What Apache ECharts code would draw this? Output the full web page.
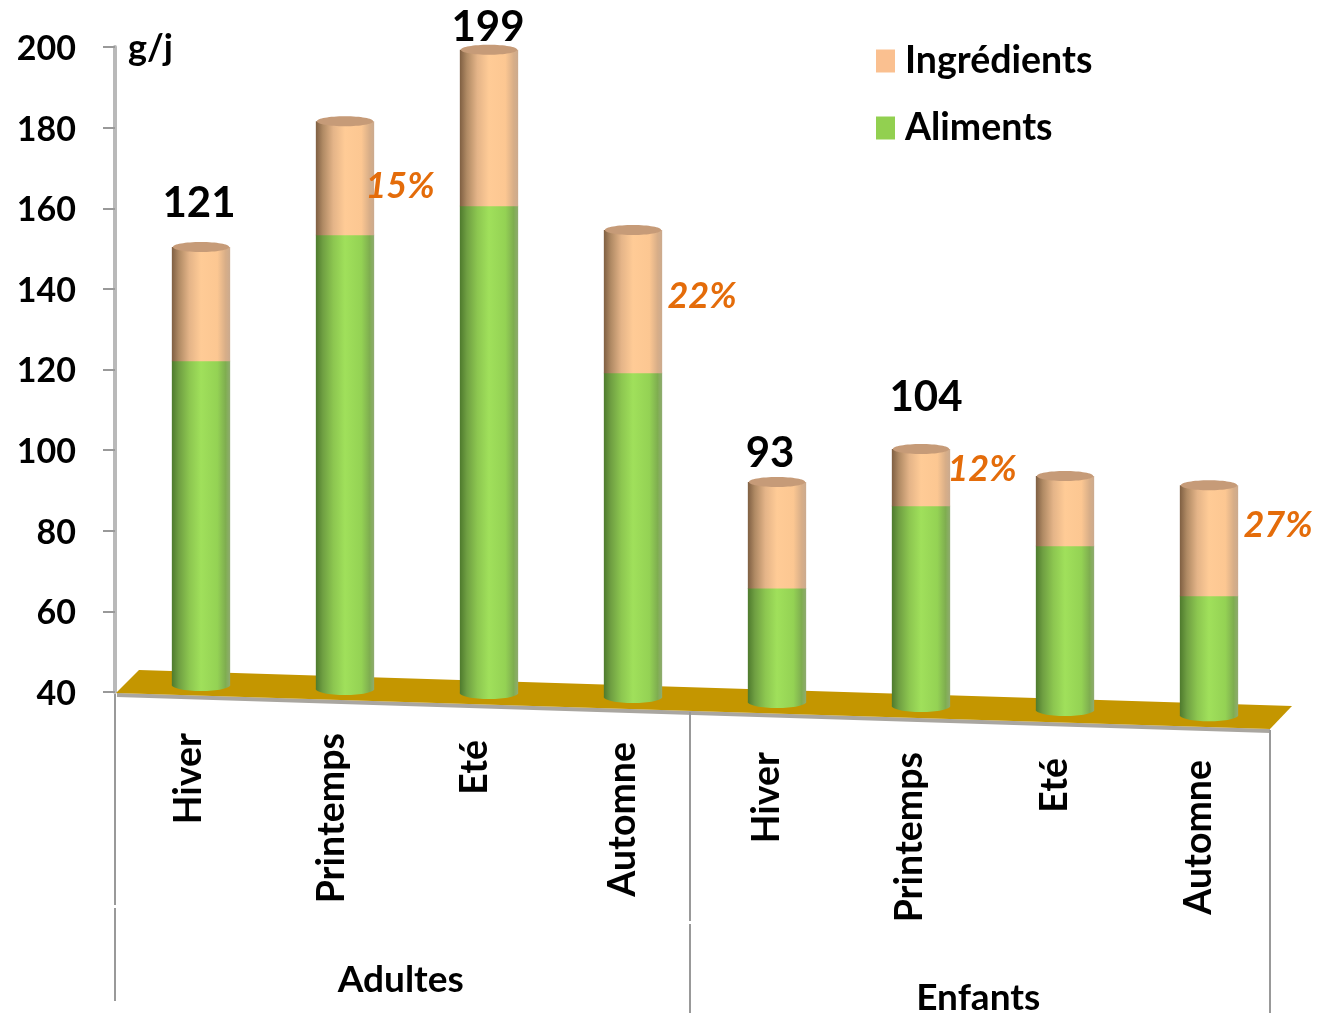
<!DOCTYPE html>
<html>
<head>
<meta charset="utf-8">
<style>html,body{margin:0;padding:0;background:#fff}#c{width:1317px;height:1013px}</style>
<script src="https://cdn.jsdelivr.net/npm/echarts@6/dist/echarts.min.js"></script>
</head>
<body>
<div id="c"></div>
<script>
const categories = ['Hiver','Printemps','Eté','Automne','Hiver','Printemps','Eté','Automne'];
const groups = ['Adultes','Enfants'];
const yTicks = {min:40, max:200, interval:20};
const floorValues = [41, 40, 39, 38, 36.8, 35.8, 34.8, 33.5];
const aliments = [122.2, 153.4, 160.6, 119.2, 65.8, 86.2, 76.3, 63.9];
const ingredients = [28.2, 28.2, 38.7, 35.4, 26.3, 14.1, 17.3, 27.4];
const totalLabels = [[0,161.1,'121'],[2,204.8,'199'],[4,99.1,'93'],[5,113,'104']];
const shareLabels = [[1,165.4,'15%'],[3,138.1,'22%'],[5,95.2,'12%'],[7,81.3,'27%']];

const FONT = 'Lato';
const catShiftDown = [0,0,7,9,19,19,25,27];
const catShiftLeft = [12,13,14,10,10,11,10,10];
const totalDx = [-2,-1,-7,5];
const shareDx = [55,69,61,69];

const grad = stops => ({type:'linear',x:0,y:0,x2:1,y2:0,colorStops:stops.map((c,i)=>({offset:c[0],color:c[1]}))});
const greenFill = grad([[0,'#4e7a2d'],[0.12,'#6f9f42'],[0.3,'#8cc650'],[0.5,'#a0e05b'],[0.78,'#94d254'],[0.92,'#7fae50'],[1,'#8fab70']]);
const peachFill = grad([[0,'#7f5f42'],[0.12,'#b08a64'],[0.3,'#e4b488'],[0.5,'#ffcb96'],[0.78,'#fcc792'],[0.92,'#d8ae88'],[1,'#cbaa8e']]);

function cylinder(fill, capColor, withFoot){
  return function(params, api){
    const i = api.value(0);
    const p0 = api.coord([i, api.value(1)]);
    const p1 = api.coord([i, api.value(2)]);
    const w = api.size([1,0])[0]*0.405;
    const cs = [];
    const foot = withFoot ? 3 : 0;
    if(withFoot){
      cs.push({type:'ellipse',shape:{cx:p0[0],cy:p0[1]-3,rx:w/2,ry:6},style:{fill:fill}});
    }
    cs.push({type:'rect',shape:{x:p0[0]-w/2,y:p1[1],width:w,height:p0[1]-p1[1]-foot+0.5},style:{fill:fill}});
    if(capColor){
      cs.push({type:'ellipse',shape:{cx:p1[0],cy:p1[1],rx:w/2-1,ry:5},style:{fill:capColor}});
    }
    return {type:'group',children:cs};
  };
}

const chart = echarts.init(document.getElementById('c'));
const txt = {fontFamily:FONT,fontWeight:'bold',color:'#000'};
chart.setOption({
  animation:false,
  backgroundColor:'#fff',
  textStyle:{fontFamily:FONT},
  grid:[
    {left:129,width:1152,top:47,height:645,outerBoundsMode:'none'},
    {left:112,width:1155,top:692,height:270,outerBoundsMode:'none'}
  ],
  legend:{
    orient:'vertical',left:871,top:37,itemWidth:19,itemHeight:23,itemGap:29,
    icon:'rect',data:['Ingrédients','Aliments'],selectedMode:false,
    textStyle:Object.assign({},txt,{fontSize:37.5,padding:[0,0,2,5]})
  },
  xAxis:[
    {type:'category',gridIndex:0,data:categories.map((c,i)=>({value:c,textStyle:{verticalAlign:'bottom',lineHeight:catShiftLeft[i]*2,padding:[0,catShiftDown[i],0,0]}})),
     axisLine:{show:false},axisTick:{show:false},
     axisLabel:Object.assign({},txt,{interval:0,rotate:90,margin:41,fontSize:37.5,hideOverlap:false})},
    {type:'category',gridIndex:1,data:[{value:groups[0]},{value:groups[1],textStyle:{padding:[18,0,0,0]}}],
     axisLine:{show:false},axisTick:{show:false},
     axisLabel:Object.assign({},txt,{interval:0,margin:0,fontSize:37,verticalAlign:'top'})}
  ],
  yAxis:[
    {type:'value',gridIndex:0,min:yTicks.min,max:yTicks.max,interval:yTicks.interval,offset:14,
     name:'g/j',nameLocation:'end',nameGap:-1,
     nameTextStyle:Object.assign({},txt,{fontSize:36,align:'left',verticalAlign:'middle',padding:[0,0,0,13]}),
     splitLine:{show:false},
     axisLine:{show:true,lineStyle:{color:'#b9b9b9',width:4}},
     axisTick:{show:true,length:12,lineStyle:{color:'#999',width:2}},
     axisLabel:Object.assign({},txt,{fontSize:34,margin:39,verticalAlign:'top',lineHeight:4})},
    {type:'value',gridIndex:1,show:false}
  ],
  graphic:[
    {type:'polygon',z:1,shape:{points:[[116,693],[139,670],[1292,706],[1270,729]]},style:{fill:'#c49600'}},
    {type:'line',z:0,shape:{x1:117,y1:695,x2:1270,y2:731},style:{stroke:'#a9a6a0',lineWidth:4}},
    {type:'line',z:0,shape:{x1:115,y1:694,x2:115,y2:905},style:{stroke:'#999',lineWidth:2}},
    {type:'line',z:0,shape:{x1:115,y1:908,x2:115,y2:1001},style:{stroke:'#999',lineWidth:2}},
    {type:'line',z:0,shape:{x1:690,y1:712,x2:690,y2:921},style:{stroke:'#999',lineWidth:2}},
    {type:'line',z:0,shape:{x1:690,y1:924,x2:690,y2:1013},style:{stroke:'#999',lineWidth:2}},
    {type:'line',z:0,shape:{x1:1270,y1:730,x2:1270,y2:1013},style:{stroke:'#999',lineWidth:2}}
  ],
  series:[
    {name:'Aliments',type:'custom',xAxisIndex:0,yAxisIndex:0,z:3,
     itemStyle:{color:'#92d050'},
     renderItem:cylinder(greenFill,null,true),
     encode:{x:0,y:[1,2]},
     data:aliments.map((v,i)=>[i,floorValues[i],v])},
    {name:'Ingrédients',type:'custom',xAxisIndex:0,yAxisIndex:0,z:4,
     itemStyle:{color:'#fac090'},
     renderItem:cylinder(peachFill,'#c69b78',false),
     encode:{x:0,y:[1,2]},
     data:ingredients.map((v,i)=>[i,aliments[i],aliments[i]+v])},
    {type:'scatter',clip:false,silent:true,z:6,symbolSize:1,itemStyle:{color:'transparent',opacity:1},
     data:totalLabels.map((d,k)=>({value:[d[0],d[1]],label:{show:true,position:'inside',formatter:d[2],offset:[totalDx[k],0],
       fontFamily:FONT,fontWeight:'bold',fontSize:42,color:'#000'}}))},
    {type:'scatter',clip:false,silent:true,z:6,symbolSize:1,itemStyle:{color:'transparent',opacity:1},
     data:shareLabels.map((d,k)=>({value:[d[0],d[1]],label:{show:true,position:'inside',formatter:d[2],offset:[shareDx[k],0],
       fontFamily:FONT,fontWeight:'bold',fontStyle:'italic',fontSize:36,color:'#e46c0a'}}))}
  ]
});
</script>
</body>
</html>
